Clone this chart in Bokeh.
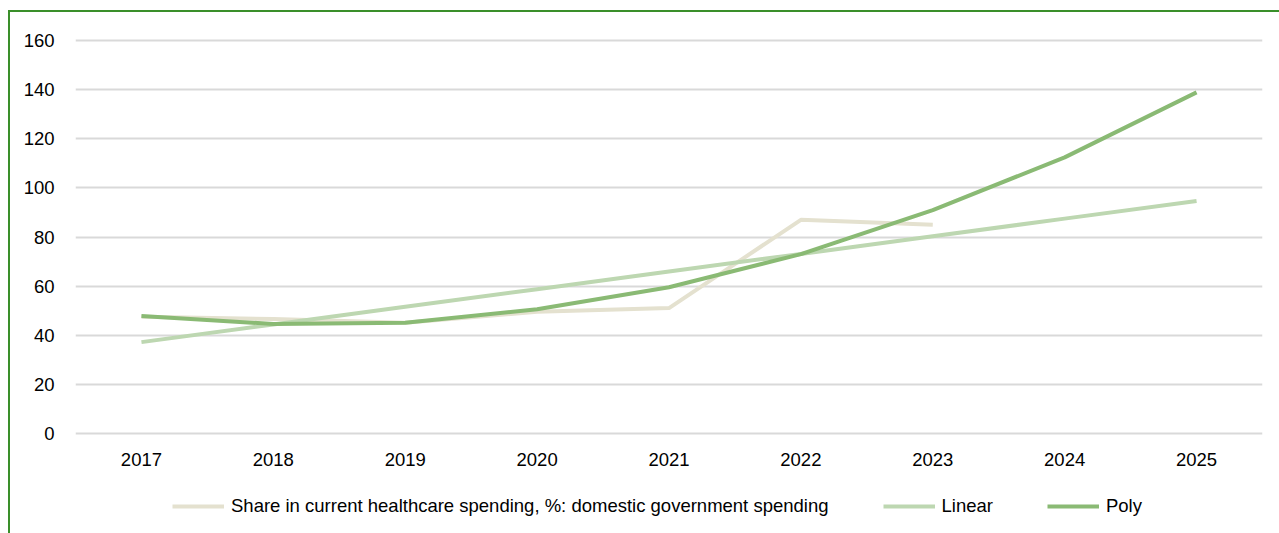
from bokeh.plotting import figure
from bokeh.models import Legend, LegendItem, FixedTicker, Range1d, FactorRange
from bokeh.layouts import column
from bokeh.embed import file_html
from bokeh.resources import INLINE

years = ["2017", "2018", "2019", "2020", "2021", "2022", "2023", "2024", "2025"]
share_years = ["2017", "2018", "2019", "2020", "2021", "2022", "2023"]
share = [47.5, 46.5, 45.0, 49.5, 51.0, 87.0, 85.0]
linear = [37.1, 44.3, 51.5, 58.7, 65.9, 73.1, 80.3, 87.5, 94.7]
poly = [47.8, 44.5, 45.0, 50.5, 59.5, 73.0, 91.0, 112.5, 139.0]
y_ticks = [0, 20, 40, 60, 80, 100, 120, 140, 160]
labels = ["Share in current healthcare spending, %: domestic government spending", "Linear", "Poly"]
colors = ["#e4e1cf", "#bdd7b1", "#8aba74"]

FONT = "Liberation Sans"
FS = "18.5px"

p = figure(width=1269, height=470, x_range=FactorRange(*years, range_padding=0),
           y_range=Range1d(-1, 161), output_backend="svg", toolbar_location=None,
           min_border_left=65, min_border_right=17, min_border_top=26, min_border_bottom=47)

p.outline_line_color = None
p.background_fill_color = "white"
p.border_fill_color = "white"

p.xgrid.grid_line_color = None
p.ygrid.grid_line_color = "#d9d9d9"
p.ygrid.grid_line_width = 2
p.yaxis.ticker = FixedTicker(ticks=y_ticks)

for ax in (p.xaxis, p.yaxis):
    ax.axis_line_color = None
    ax.major_tick_line_color = None
    ax.minor_tick_line_color = None
    ax.major_label_text_font = FONT
    ax.major_label_text_font_size = FS
    ax.major_label_text_color = "#000000"
p.yaxis.major_label_standoff = 15
p.xaxis.major_label_standoff = 11

p.line(share_years, share, line_color=colors[0], line_width=4)
p.line(years, linear, line_color=colors[1], line_width=4)
p.line(years, poly, line_color=colors[2], line_width=4)

# legend strip: same series drawn far outside its visible range, only the legend shows
lg = figure(width=1269, height=51, x_range=FactorRange(*years, range_padding=0),
            y_range=Range1d(1000, 1001), output_backend="svg", toolbar_location=None,
            min_border=0, min_border_left=0, min_border_right=0, min_border_top=0, min_border_bottom=0)
lg.axis.visible = False
lg.grid.visible = False
lg.outline_line_color = None
lg.background_fill_color = "white"
lg.border_fill_color = "white"
q1 = lg.line(share_years, share, line_color=colors[0], line_width=4)
q2 = lg.line(years, linear, line_color=colors[1], line_width=4)
q3 = lg.line(years, poly, line_color=colors[2], line_width=4)

legend = Legend(items=[
    LegendItem(label=labels[0], renderers=[q1]),
    LegendItem(label=labels[1], renderers=[q2]),
    LegendItem(label=labels[2], renderers=[q3]),
], orientation="horizontal", location=(97, 16), glyph_width=52, glyph_height=20,
    label_standoff=7, spacing=54, padding=0, margin=0,
    label_text_font=FONT, label_text_font_size=FS, label_text_color="#000000",
    border_line_color=None, background_fill_alpha=0)
lg.add_layout(legend, "center")

layout = column(p, lg, spacing=0)
layout.styles = {"margin-left": "8px", "margin-top": "10px",
                 "border-left": "2px solid #3a8f2a", "border-top": "2px solid #3a8f2a"}

open("out.html", "w").write(file_html(layout, INLINE))
